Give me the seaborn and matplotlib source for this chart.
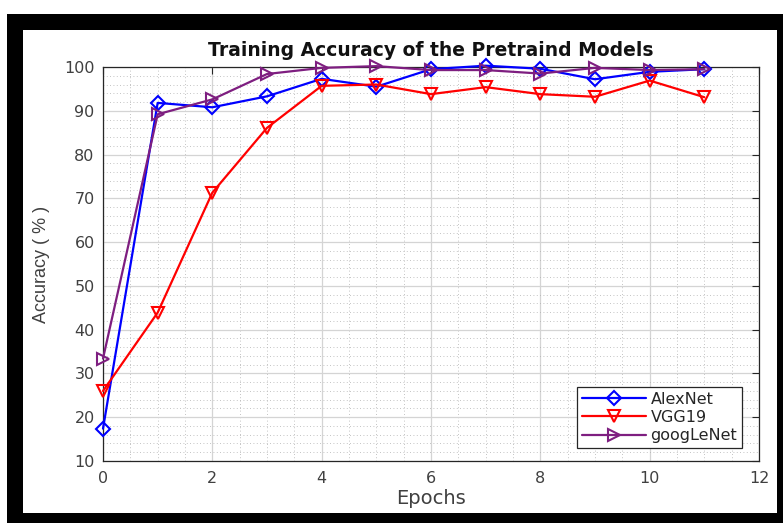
import numpy as np
import pandas as pd
import matplotlib
matplotlib.use("Agg")
import matplotlib.pyplot as plt
from matplotlib.patches import Rectangle
from matplotlib.ticker import MultipleLocator
import seaborn as sns

epochs = list(range(12))
alexnet = [17.4, 91.8, 90.8, 93.3, 97.3, 95.5, 99.5, 100.3, 99.6, 97.2, 98.9, 99.5]
vgg19 = [26.0, 43.9, 71.3, 86.1, 95.7, 96.0, 93.8, 95.4, 93.8, 93.2, 96.9, 93.1]
googlenet = [33.4, 89.2, 92.6, 98.4, 99.8, 100.2, 99.3, 99.3, 98.5, 99.8, 99.3, 99.5]
names = ["AlexNet", "VGG19", "googLeNet"]
colors = ["#0000FF", "#FF0000", "#7E1E80"]
markers = ["D", "v", ">"]

sns.set_style("white")
plt.rcParams["font.family"] = ["DejaVu Sans"]

fig = plt.figure(figsize=(7.83, 5.23), dpi=100)
fig.patch.set_facecolor("white")
W, H = 783.0, 523.0
fig.patches.append(Rectangle((7 / W, 0), 1 - 7 / W, (H - 14) / H, transform=fig.transFigure,
                             facecolor="black", edgecolor="none", zorder=-10))
fig.patches.append(Rectangle((23 / W, 10 / H), (777 - 23) / W, (513 - 30) / H, transform=fig.transFigure,
                             facecolor="white", edgecolor="none", zorder=-9))

ax = fig.add_axes([103 / W, (H - 461) / H, 656 / W, 394 / H])
ax.set_facecolor("white")

for vals, name, c, m in zip([alexnet, vgg19, googlenet], names, colors, markers):
    df = pd.DataFrame({"Epochs": epochs, "Accuracy": vals})
    sns.lineplot(data=df, x="Epochs", y="Accuracy", ax=ax, color=c, linewidth=1.6,
                 marker=m, markersize=9 if m != "D" else 7, markerfacecolor="none",
                 markeredgecolor=c, markeredgewidth=1.5, label=name, zorder=3, clip_on=False)

ax.set_xlim(0, 12)
ax.set_ylim(10, 100)
ax.xaxis.set_major_locator(MultipleLocator(2))
ax.xaxis.set_minor_locator(MultipleLocator(0.5))
ax.yaxis.set_major_locator(MultipleLocator(10))
ax.yaxis.set_minor_locator(MultipleLocator(2))
ax.grid(which="major", color="#d4d4d4", linewidth=0.9, linestyle="-")
ax.grid(which="minor", color="#b0b0b0", linewidth=0.6, linestyle=(0, (1, 3)))
ax.set_axisbelow(True)

for s in ax.spines.values():
    s.set_visible(True)
    s.set_color("#262626")
    s.set_linewidth(0.9)
ax.tick_params(which="major", direction="in", length=5, width=0.8, color="#262626",
               top=True, right=True, labelsize=11.5, labelcolor="#404040")
ax.tick_params(axis="x", which="major", pad=7)
ax.tick_params(axis="y", which="major", pad=6)
ax.tick_params(which="minor", length=0)

ax.set_xlabel("Epochs", fontsize=14, color="#404040", labelpad=2)
ax.set_ylabel("Accuracy ( % )", fontsize=13, color="#404040", labelpad=10,
              family=["Liberation Sans", "DejaVu Sans"])
ax.set_title("Training Accuracy of the Pretraind Models", fontsize=13.5, fontweight="bold",
             color="#111111", pad=8)

leg = ax.legend(loc="lower right", bbox_to_anchor=((742 - 103) / 656, 13 / 394), fontsize=11.5,
                frameon=True, fancybox=False, edgecolor="#262626", handlelength=4.0,
                borderpad=0.3, labelspacing=0.2, handletextpad=0.3, borderaxespad=0)
leg.get_frame().set_linewidth(0.9)
leg.get_frame().set_facecolor("white")
leg.get_frame().set_alpha(1)

fig.savefig("out.png", dpi=100, facecolor="white")
